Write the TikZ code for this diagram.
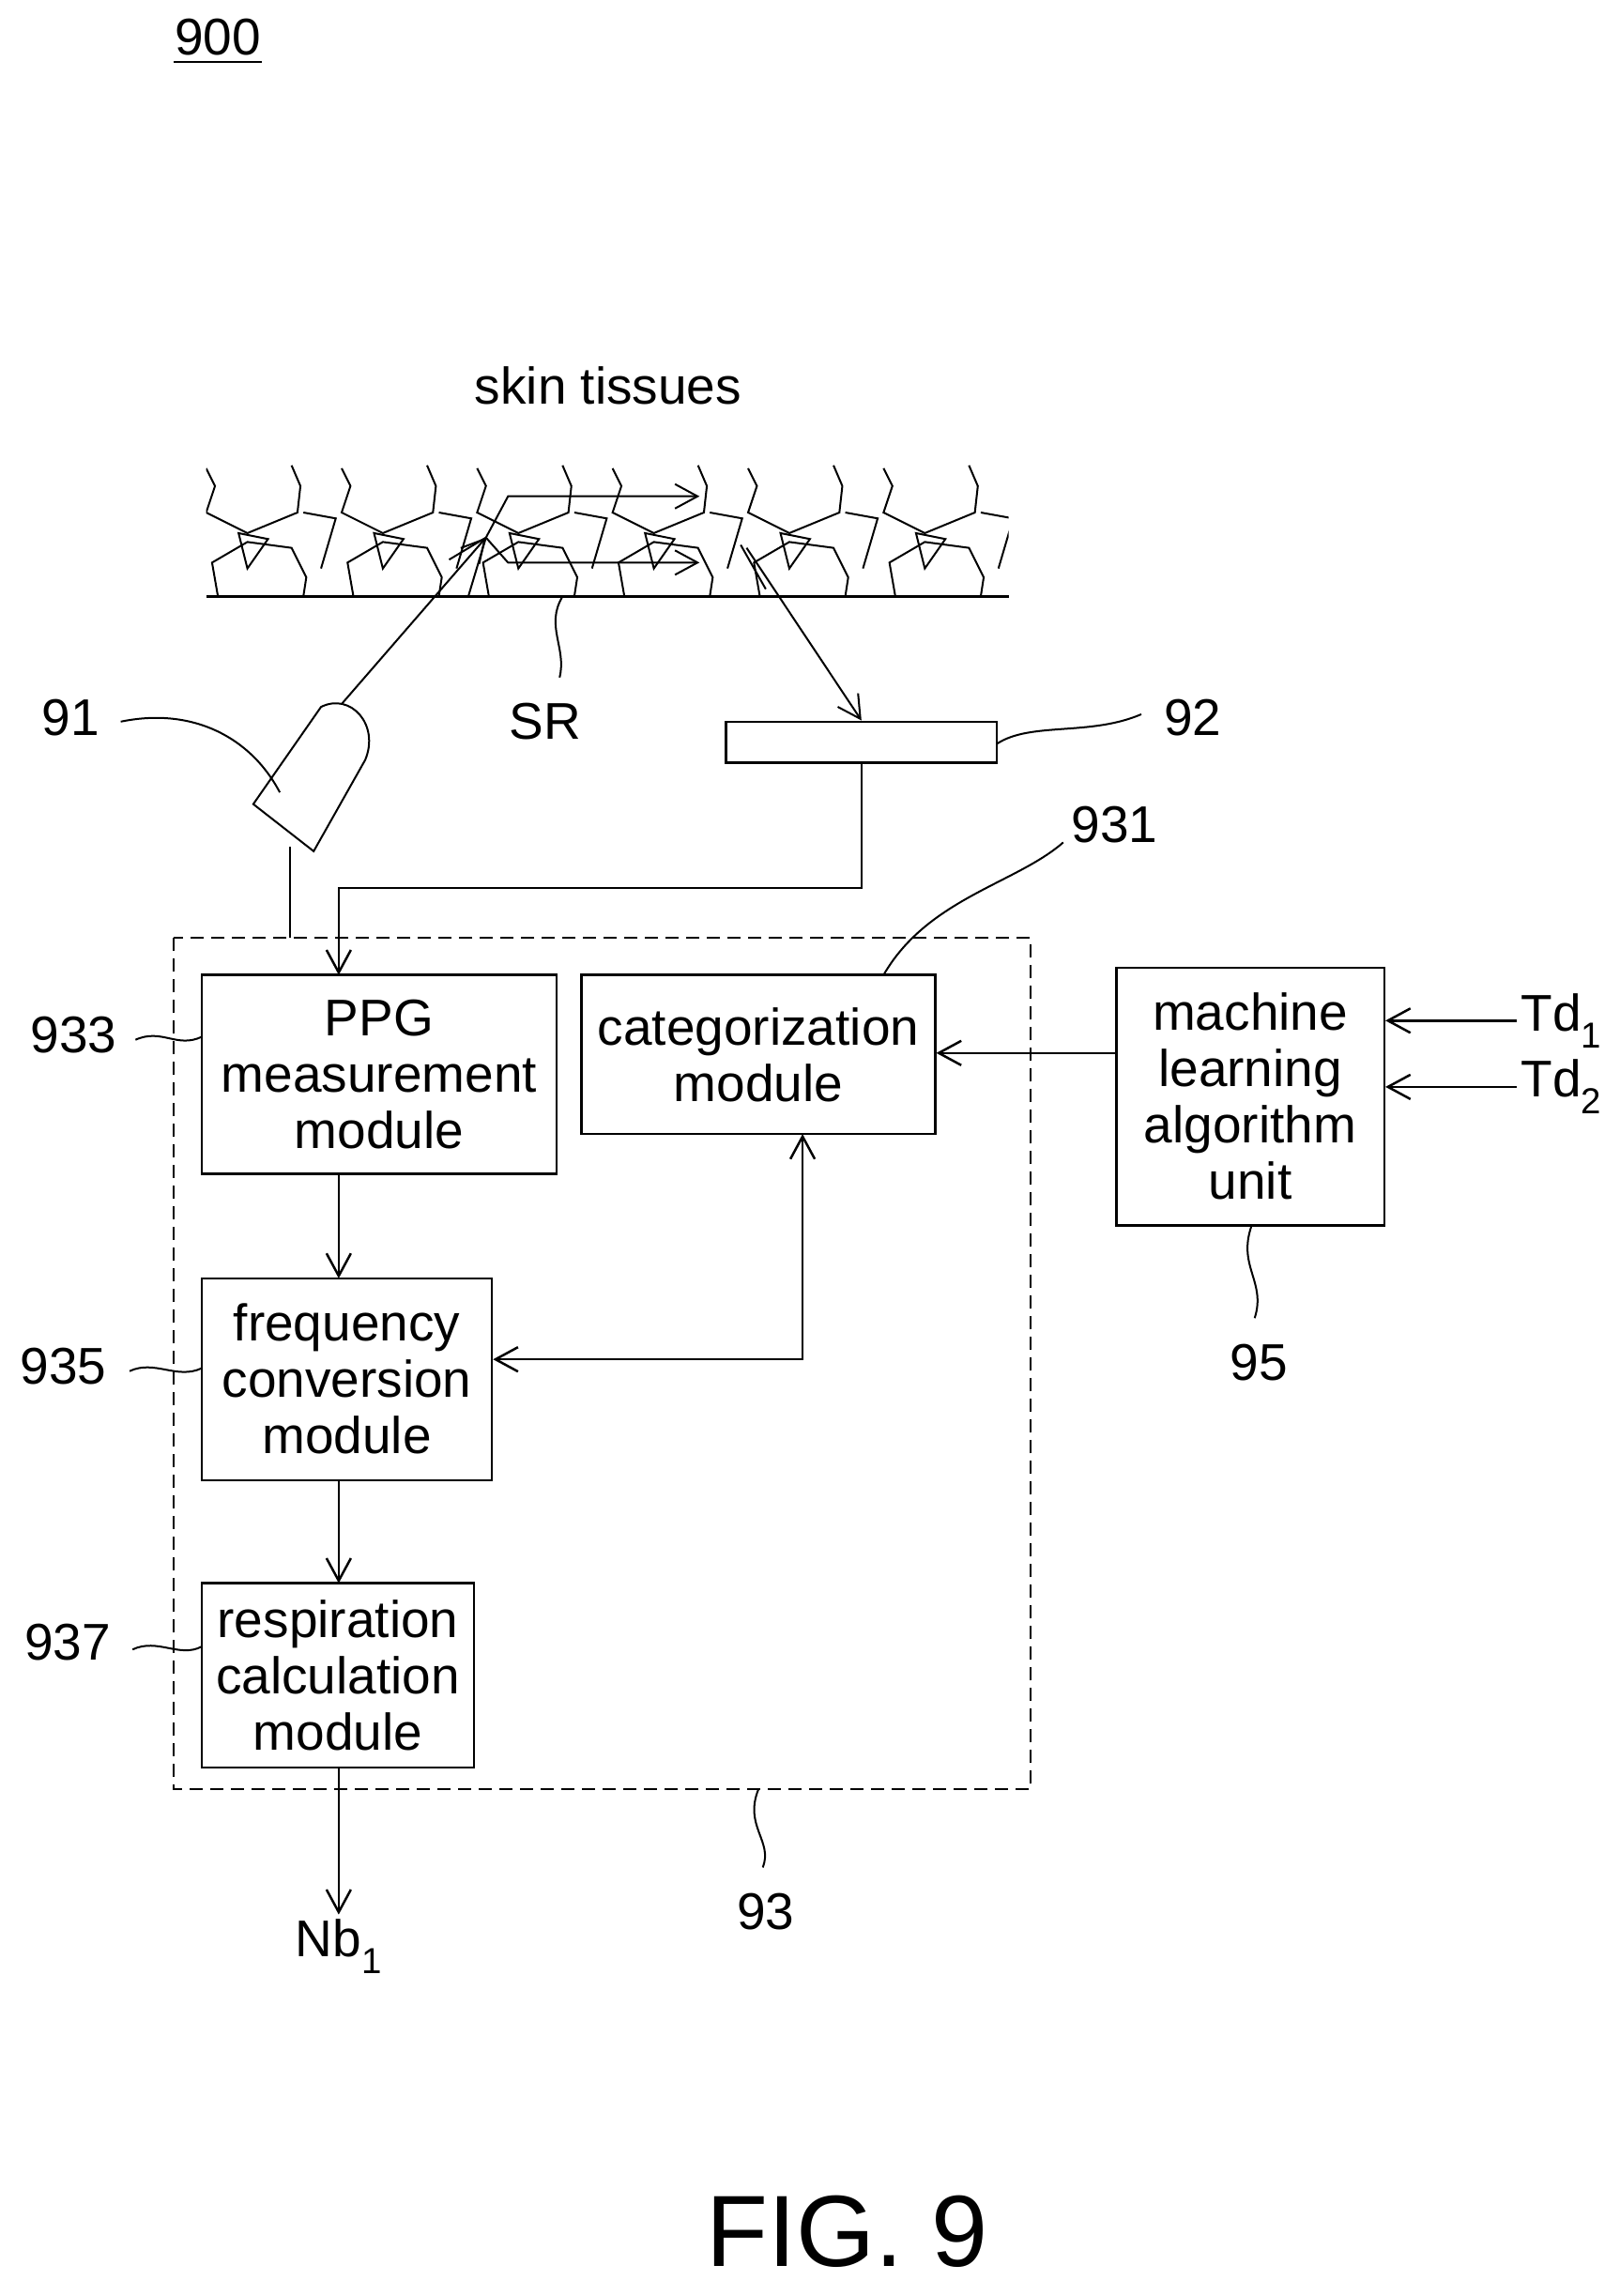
\documentclass[tikz,border=0pt]{standalone}
\usepackage{fontspec}
\setmainfont{Liberation Sans}
\usetikzlibrary{arrows.meta,positioning}
\tikzset{>={Straight Barb[length=24pt,width=26pt]},
         block/.style={draw,line width=2.5pt,align=center,inner sep=0pt,font=\fontsize{55}{60}\selectfont},
         lbl/.style={font=\fontsize{55}{60}\selectfont},
         lead/.style={line width=2pt},
         wire/.style={line width=2.5pt}}
\begin{document}
\begin{tikzpicture}[x=1.569pt,y=-1.569pt,line width=2.5pt]
\useasboundingbox (0,0) rectangle (1100,1559);
% labels
\node[lbl] (n900) at (148,25) {900};
\draw[lead] (118,42) -- (178,42);
\node[lbl] (skin) at (413,262) {skin tissues};
% skin cells
\begin{scope}
\clip (140,315) rectangle (685,405);
\foreach \p in {140,232,324,416,508,600} {
  \draw[lead,shift={(\p,0)}] (0,318) -- (6,330) -- (0,348) -- (28,362) -- (62,348) -- (64,330) -- (58,316);
  \draw[lead,shift={(\p,0)}] (8,405) -- (4,382) -- (28,368) -- (58,372) -- (68,392) -- (66,405);
  \draw[lead,shift={(\p,0)}] (22,362) -- (42,366) -- (28,386) -- cycle;
  \draw[lead,shift={(\p,0)}] (66,348) -- (88,352) -- (78,386);
}
\end{scope}
\draw[wire] (140,405) -- (685,405);
% light paths
\coordinate (hit) at (330,365);
\draw[lead,->] (hit) -- (345,337) -- (475,337);
\draw[lead,->] (hit) -- (345,382) -- (475,382);
\draw[lead] (hit) -- (318,405);
\draw[lead] (hit) -- (305,380);
% emitter 91
\draw[lead] (172,546) -- (213,578) -- (248,516) .. controls (258,492) and (238,470) .. (218,480) -- cycle;
\draw[lead,->] (232,478) -- (hit);
% detector 92
\node[draw,line width=2.5pt,minimum width=184*1.569pt,minimum height=28*1.569pt,inner sep=0pt] (det) at (585,504) {};
\draw[lead,->] (507,372) -- (det.north);
\draw[lead] (503,370) -- (520,400);
% 93 box
\draw[dashed,dash pattern=on 14pt off 8pt,line width=2pt] (118,637) rectangle (700,1215);
% blocks
\node[block,minimum width=241*1.569pt,minimum height=135*1.569pt] (ppg) at (257.5,729.5) {PPG\\measurement\\module};
\node[block,minimum width=240*1.569pt,minimum height=108*1.569pt] (cat) at (515,716) {categorization\\module};
\node[block,minimum width=197*1.569pt,minimum height=137*1.569pt] (freq) at (235.5,936.5) {frequency\\conversion\\module};
\node[block,minimum width=185*1.569pt,minimum height=125*1.569pt] (resp) at (229.5,1137.5) {respiration\\calculation\\module};
\node[block,minimum width=182*1.569pt,minimum height=175*1.569pt] (ml) at (849,744.5) {machine\\learning\\algorithm\\unit};
% wires
\draw[wire] (197,575) -- (197,637);
\draw[wire,->] (det.south) -- (585,603) -- (230,603) -- (230,662);
\draw[wire,->] (230,797) -- (230,868);
\draw[wire,->] (230,1005) -- (230,1075);
\coordinate (nbout) at (230,1300);
\draw[wire,->] (230,1200) -- (nbout);
\node[lbl,below=0pt of nbout] (nb) {Nb\textsubscript{1}};
\draw[wire,->] (ml.west |- 0,715) -- (cat.east |- 0,715);
\draw[wire,<->] (545,770) -- (545,923) -- (freq.east |- 0,923);
\node[lbl,anchor=west] (td1) at (1030,693) {Td\textsubscript{1}};
\node[lbl,anchor=west] (td2) at (1030,738) {Td\textsubscript{2}};
\draw[wire,->] (td1.west) -- (ml.east |- td1);
\draw[wire,->] (td2.west) -- (ml.east |- td2);
% reference labels
\node[lbl] (l91) at (48,487) {91};
\draw[lead] (82,490) .. controls (130,480) and (170,500) .. (190,538);
\node[lbl] (lsr) at (370,490) {SR};
\draw[lead] (382,405) .. controls (370,425) and (385,440) .. (380,460);
\node[lbl] (l92) at (810,487) {92};
\draw[lead] (677,505) .. controls (700,490) and (740,500) .. (775,485);
\node[lbl] (l931) at (757,560) {931};
\draw[lead] (600,662) .. controls (630,610) and (690,600) .. (722,572);
\node[lbl] (l933) at (50,703) {933};
\draw[lead] (92,706) .. controls (110,698) and (120,712) .. (137,704);
\node[lbl] (l935) at (43,928) {935};
\draw[lead] (88,931) .. controls (105,923) and (120,937) .. (137,929);
\node[lbl] (l937) at (46,1115) {937};
\draw[lead] (90,1120) .. controls (107,1112) and (122,1126) .. (137,1118);
\node[lbl] (l95) at (855,925) {95};
\draw[lead] (850,832) .. controls (840,860) and (860,870) .. (852,895);
\node[lbl] (l93) at (520,1298) {93};
\draw[lead] (515,1215) .. controls (505,1240) and (525,1250) .. (518,1268);
\node[font=\fontsize{108}{110}\selectfont] (fig) at (575,1515) {FIG. 9};
\end{tikzpicture}
\end{document}
